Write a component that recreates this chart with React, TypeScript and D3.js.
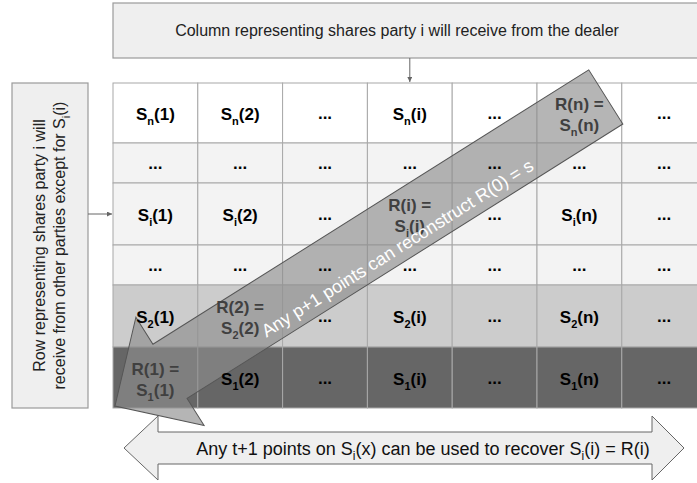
import React from "react";
import * as d3 from "d3";

// share matrix: rows are polynomial index (top to bottom), columns are evaluation points
const rowIds = ["n", "…", "i", "…", "2", "1"];
const colIds = ["1", "2", "…", "i", "…", "n", "…"];
const rowFills = ["#ffffff", "#f3f3f3", "#f3f3f3", "#f3f3f3", "#cccccc", "#666666"];
const rowHeights = [60, 40, 62, 40, 62, 61];

const topNote = "Column representing shares party i will receive from the dealer";
const sideNote = ["Row representing shares party i will", "receive from other parties except for "];
const diagNote = "Any p+1 points can reconstruct R(0) = s";

const W = 697;
const H = 483;
const table = { left: 113, top: 83, colW: 84.8 };
const font = "Liberation Sans, Arial, Helvetica, sans-serif";

type Part = { t: string; sub?: boolean };

const Rich: React.FC<{
  parts: Part[];
  x: number;
  y: number;
  size: number;
  subSize: number;
  fill?: string;
  weight?: string;
  anchor?: string;
  transform?: string;
}> = ({ parts, x, y, size, subSize, fill = "#000", weight = "normal", anchor = "middle", transform }) => {
  let shift = 0;
  const off = Math.round(size * 0.3);
  return (
    <text
      x={x}
      y={y}
      fontSize={size}
      fontWeight={weight}
      fill={fill}
      textAnchor={anchor}
      fontFamily={font}
      transform={transform}
    >
      {parts.map((p, i) => {
        const target = p.sub ? off : 0;
        const dy = target - shift;
        shift = target;
        return (
          <tspan key={i} dy={dy} fontSize={p.sub ? subSize : size}>
            {p.t}
          </tspan>
        );
      })}
    </text>
  );
};

export default function App() {
  const x = d3
    .scaleBand<number>()
    .domain(d3.range(colIds.length))
    .range([table.left, table.left + table.colW * colIds.length]);
  const edges = [0, ...d3.cumsum(rowHeights)].map((v) => v + table.top);
  const bottom = edges[edges.length - 1];
  const cx = (c: number) => x(c)! + x.bandwidth() / 2;
  const cy = (r: number) => (edges[r] + edges[r + 1]) / 2;

  // big diagonal arrow, local frame: tip at origin, axis along +x
  const len = 580, shaft = 32, headL = 65, headW = 64;
  const angle = -32.2;
  const tip: [number, number] = [x(0)! + 2, bottom - 2];
  const diagPts = [
    [0, 0], [headL, -headW], [headL, -shaft], [len, -shaft],
    [len, shaft], [headL, shaft], [headL, headW],
  ];
  const arrowT = `translate(${tip[0]},${tip[1]}) rotate(${angle})`;

  // bottom double arrow
  const bY = 448, bShaft = 16, bHead = 32;
  const bL = 124, bR = 684, bHL = 34, bHR = 32;
  const dbl = [
    [bL, bY], [bL + bHL, bY - bHead], [bL + bHL, bY - bShaft], [bR - bHR, bY - bShaft],
    [bR - bHR, bY - bHead], [bR, bY], [bR - bHR, bY + bHead], [bR - bHR, bY + bShaft],
    [bL + bHL, bY + bShaft], [bL + bHL, bY + bHead],
  ];

  const cells: React.ReactNode[] = [];
  rowIds.forEach((r, ri) => {
    colIds.forEach((c, ci) => {
      const key = `${ri}-${ci}`;
      if (r === "…" || c === "…") {
        cells.push(
          <Rich key={key} parts={[{ t: "..." }]} x={cx(ci)} y={cy(ri) + 6} size={17} subSize={11} weight="bold" />
        );
      } else if (r === c) {
        cells.push(
          <g key={key}>
            <Rich parts={[{ t: `R(${r}) =` }]} x={cx(ci)} y={cy(ri) - 3} size={17} subSize={11} weight="bold" fill="#404040" />
            <Rich
              parts={[{ t: "S" }, { t: r, sub: true }, { t: `(${c})` }]}
              x={cx(ci)}
              y={cy(ri) + 18}
              size={17}
              subSize={11}
              weight="bold"
              fill="#404040"
            />
          </g>
        );
      } else {
        cells.push(
          <Rich
            key={key}
            parts={[{ t: "S" }, { t: r, sub: true }, { t: `(${c})` }]}
            x={cx(ci)}
            y={cy(ri) + 7}
            size={17}
            subSize={11}
            weight="bold"
          />
        );
      }
    });
  });

  const iCol = colIds.indexOf("i");
  const iRow = rowIds.indexOf("i");

  return (
    <svg width={W} height={H} style={{ position: "absolute", left: 0, top: 0 }}>
      <defs>
        <marker id="ah" viewBox="0 0 10 10" refX="10" refY="5" markerWidth="5" markerHeight="5" orient="auto">
          <path d="M0,0 L10,5 L0,10 z" fill="#666" />
        </marker>
      </defs>
      <rect width={W} height={H} fill="#fff" />

      {/* top note */}
      <rect x={table.left} y={3} width={620} height={55} fill="#efefef" stroke="#9a9a9a" strokeWidth={1.2} />
      <text x={397} y={36} fontSize={16} textAnchor="middle" fontFamily={font} fill="#222">
        {topNote}
      </text>
      <line x1={cx(iCol)} x2={cx(iCol)} y1={58} y2={table.top - 1} stroke="#666" markerEnd="url(#ah)" />

      {/* side note */}
      <rect x={12} y={table.top} width={76} height={bottom - table.top} fill="#efefef" stroke="#9a9a9a" strokeWidth={1.2} />
      <Rich
        parts={[{ t: sideNote[0] }]}
        x={0}
        y={0}
        size={16}
        subSize={11}
        fill="#222"
        transform={`translate(45,${(table.top + bottom) / 2}) rotate(-90)`}
      />
      <Rich
        parts={[{ t: sideNote[1] }, { t: "S" }, { t: "i", sub: true }, { t: "(i)" }]}
        x={0}
        y={0}
        size={16}
        subSize={11}
        fill="#222"
        transform={`translate(65,${(table.top + bottom) / 2}) rotate(-90)`}
      />
      <line x1={88} x2={table.left - 1} y1={cy(iRow)} y2={cy(iRow)} stroke="#666" markerEnd="url(#ah)" />

      {/* table */}
      {rowIds.map((_, ri) =>
        colIds.map((__, ci) => (
          <rect
            key={`c${ri}-${ci}`}
            x={x(ci)}
            y={edges[ri]}
            width={x.bandwidth()}
            height={edges[ri + 1] - edges[ri]}
            fill={rowFills[ri]}
            stroke="#a8a8a8"
            strokeWidth={1}
          />
        ))
      )}

      {/* bottom double arrow */}
      <polygon points={dbl.map((p) => p.join(",")).join(" ")} fill="#efefef" stroke="#666" strokeWidth={1} />
      <Rich
        parts={[
          { t: "Any t+1 points on S" },
          { t: "i", sub: true },
          { t: "(x) can be used to recover S" },
          { t: "i", sub: true },
          { t: "(i) = R(i)" },
        ]}
        x={423}
        y={455}
        size={18}
        subSize={12}
        fill="#111"
      />

      {/* diagonal arrow */}
      <g transform={arrowT}>
        <polygon
          points={diagPts.map((p) => p.join(",")).join(" ")}
          fill="#8e8e8e"
          fillOpacity={0.65}
          stroke="#555"
          strokeWidth={1}
        />
      </g>

      {cells}

      <g transform={arrowT}>
        <text x={323} y={23} fontSize={18} fill="#fff" textAnchor="middle" fontFamily={font}>
          {diagNote}
        </text>
      </g>
    </svg>
  );
}
